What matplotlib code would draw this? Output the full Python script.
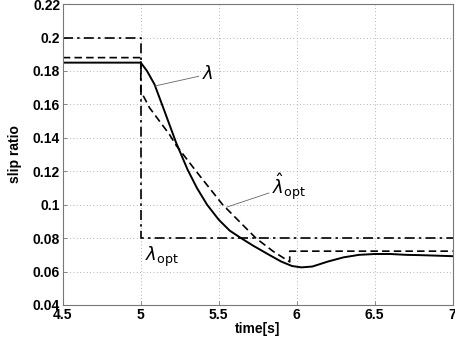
import numpy as np
import matplotlib
matplotlib.use('Agg')
import matplotlib.pyplot as plt

plt.rcParams['font.family'] = ['Liberation Sans', 'DejaVu Sans']
plt.rcParams['mathtext.fontset'] = 'dejavusans'

# actual slip ratio (solid)
lam_t = [4.5, 5.0, 5.04, 5.088, 5.152, 5.227, 5.30, 5.36, 5.425, 5.50, 5.57, 5.643,
         5.72, 5.823, 5.9, 5.97, 6.03, 6.1, 6.2, 6.3, 6.4, 6.5, 6.6, 6.7, 6.8, 6.9, 7.0]
lam_v = [0.185, 0.185, 0.180, 0.172, 0.156, 0.137, 0.121, 0.110, 0.100, 0.091, 0.0845, 0.080,
         0.0755, 0.070, 0.066, 0.0633, 0.0625, 0.063, 0.066, 0.0685, 0.070, 0.0705,
         0.0705, 0.070, 0.0698, 0.0695, 0.0692]

# estimated optimal slip (dashed)
est_t = [4.5, 5.0, 5.0, 5.056, 5.184, 5.227, 5.355, 5.525, 5.738, 5.85, 5.955, 5.955, 7.0]
est_v = [0.188, 0.188, 0.168, 0.158, 0.142, 0.1355, 0.120, 0.100, 0.080, 0.072, 0.0658,
         0.0722, 0.0722]

# true optimal slip (dash-dot)
opt_t = [4.5, 5.0, 5.0, 7.0]
opt_v = [0.2, 0.2, 0.08, 0.08]

xticks = [4.5, 5, 5.5, 6, 6.5, 7]
yticks = [0.04, 0.06, 0.08, 0.1, 0.12, 0.14, 0.16, 0.18, 0.2, 0.22]

fig = plt.figure(figsize=(4.55, 3.45), dpi=100)
ax = fig.add_axes([0.138, 0.116, 0.857, 0.872])

ax.plot(opt_t, opt_v, color='black', lw=1.2, linestyle=(0, (6, 2.5, 1.5, 2.5)))
ax.plot(est_t, est_v, color='black', lw=1.2, linestyle=(0, (4.5, 2.5)))
ax.plot(lam_t, lam_v, color='black', lw=1.4)

ax.set_xlim(4.5, 7)
ax.set_ylim(0.04, 0.22)
ax.set_xticks(xticks)
ax.set_xticklabels(['4.5', '5', '5.5', '6', '6.5', '7'])
ax.set_yticks(yticks)
ax.set_yticklabels(['0.04', '0.06', '0.08', '0.1', '0.12', '0.14', '0.16', '0.18', '0.2', '0.22'])
ax.grid(True, linestyle=(0, (1, 3)), color='#999999', lw=0.6)
ax.tick_params(direction='in', length=3, width=0.6, color='#777777', pad=2,
               labelsize=10)
for lbl in ax.get_xticklabels() + ax.get_yticklabels():
    lbl.set_fontweight('bold')
for s in ax.spines.values():
    s.set_color('#777777')
    s.set_linewidth(0.8)

ax.set_xlabel('time[s]', fontsize=10, fontweight='bold', labelpad=0)
ax.set_ylabel('slip ratio', fontsize=10, fontweight='bold', labelpad=8)

# annotations
ax.annotate(r'$\lambda$', xy=(5.09, 0.171), xytext=(5.39, 0.178),
            fontsize=13, va='center', ha='left',
            arrowprops=dict(arrowstyle='-', color='#666666', lw=0.6, shrinkA=0, shrinkB=0))
ax.annotate(r'$\hat{\lambda}_{\rm opt}$', xy=(5.55, 0.0985), xytext=(5.84, 0.111),
            fontsize=13, va='center', ha='left',
            arrowprops=dict(arrowstyle='-', color='#666666', lw=0.6, shrinkA=0, shrinkB=0))
ax.text(5.03, 0.0685, r'$\lambda_{\rm opt}$', fontsize=13, va='center', ha='left')

fig.savefig('out.png', dpi=100)
